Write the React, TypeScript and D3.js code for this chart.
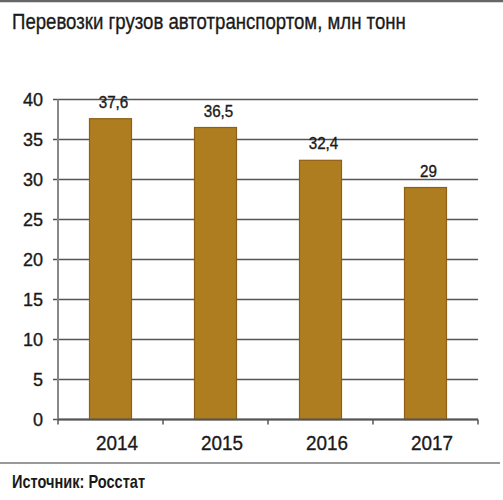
import React from "react";
import * as d3 from "d3";

const years = ["2014", "2015", "2016", "2017"];
const values = [37.6, 36.5, 32.4, 29];
const valueLabels = ["37,6", "36,5", "32,4", "29"];
const yTicks = [0, 5, 10, 15, 20, 25, 30, 35, 40];
const title = "Перевозки грузов автотранспортом, млн тонн";
const source = "Источник: Росстат";

const W = 503;
const H = 500;
const plot = { left: 58, right: 478, top: 99.5, bottom: 419.5 };
const FONT = "'Liberation Sans', Arial, sans-serif";

// Condensed text: the installed sans is squeezed horizontally around its anchor.
function NarrowText(props: {
  x: number;
  y: number;
  sx: number;
  size: number;
  anchor?: "start" | "middle" | "end";
  weight?: string;
  dy?: string;
  children: React.ReactNode;
}) {
  const { x, y, sx, size, anchor = "start", weight = "normal", dy, children } = props;
  return (
    <text
      transform={`translate(${x},${y}) scale(${sx},1)`}
      dy={dy}
      textAnchor={anchor}
      fontFamily={FONT}
      fontSize={size}
      fontWeight={weight}
      fill="#1a1a1a"
      stroke={weight === "bold" ? "none" : "#1a1a1a"}
      strokeWidth={0.35}
    >
      {children}
    </text>
  );
}

export default function App() {
  const x = d3
    .scaleBand<string>()
    .domain(years)
    .range([plot.left, plot.right])
    .paddingInner(0.6)
    .paddingOuter(0.3);
  const y = d3.scaleLinear().domain([0, 40]).range([plot.bottom, plot.top]);
  const bandTicks = d3.range(years.length + 1).map(
    (i) => plot.left + (i * (plot.right - plot.left)) / years.length
  );

  return (
    <svg
      width={W}
      height={H}
      style={{ position: "absolute", left: 0, top: 0, background: "#fff" }}
    >
      <rect x={0} y={0} width={W} height={H} fill="#fff" />
      <line x1={0} x2={W} y1={1} y2={1} stroke="#666" strokeWidth={2.5} />
      <NarrowText x={12} y={29} sx={0.81} size={23}>
        {title}
      </NarrowText>

      {/* gridlines and y axis */}
      {yTicks.map((t) => (
        <g key={t}>
          <line
            x1={plot.left - 5}
            x2={plot.right}
            y1={y(t)}
            y2={y(t)}
            stroke="#555"
            strokeWidth={1.6}
          />
          <NarrowText x={43} y={y(t)} dy="0.36em" sx={0.95} size={19} anchor="end">
            {t}
          </NarrowText>
        </g>
      ))}
      <line
        x1={plot.left}
        x2={plot.left}
        y1={plot.top}
        y2={plot.bottom}
        stroke="#888"
        strokeWidth={2}
      />

      {/* bars */}
      {years.map((yr, i) => (
        <g key={yr}>
          <rect
            x={x(yr)!}
            y={y(values[i])}
            width={x.bandwidth()}
            height={plot.bottom - y(values[i])}
            fill="#AE7D20"
            stroke="#8E5F14"
            strokeWidth={1.2}
          />
          <NarrowText
            x={x(yr)! + x.bandwidth() / 2 + 3}
            y={y(values[i]) - 11}
            sx={0.92}
            size={16.5}
            anchor="middle"
          >
            {valueLabels[i]}
          </NarrowText>
          <NarrowText
            x={x(yr)! + x.bandwidth() / 2 + 6.5}
            y={450}
            sx={0.9}
            size={21}
            anchor="middle"
          >
            {yr}
          </NarrowText>
        </g>
      ))}

      {/* x axis */}
      <line
        x1={plot.left}
        x2={plot.right}
        y1={plot.bottom}
        y2={plot.bottom}
        stroke="#555"
        strokeWidth={2}
      />
      {bandTicks.map((t) => (
        <line
          key={t}
          x1={t}
          x2={t}
          y1={plot.bottom}
          y2={plot.bottom + 5}
          stroke="#555"
          strokeWidth={1.5}
        />
      ))}

      <line x1={0} x2={500} y1={463} y2={463} stroke="#999" strokeWidth={2} />
      <NarrowText x={12} y={488} sx={0.81} size={18} weight="bold">
        {source}
      </NarrowText>
    </svg>
  );
}
